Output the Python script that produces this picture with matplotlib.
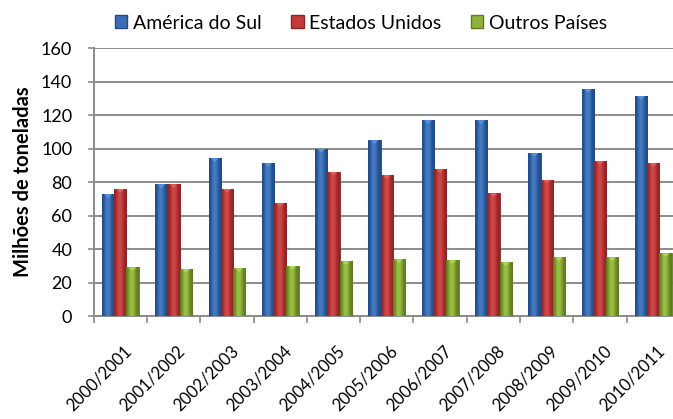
import matplotlib
matplotlib.use("Agg")
import matplotlib.pyplot as plt
import matplotlib.transforms as mtransforms
import numpy as np
from matplotlib.patches import Patch
from matplotlib.colors import LinearSegmentedColormap

categories = ["2000/2001", "2001/2002", "2002/2003", "2003/2004", "2004/2005",
              "2005/2006", "2006/2007", "2007/2008", "2008/2009", "2009/2010", "2010/2011"]
america_sul = [72.7, 78.6, 94.1, 91.2, 99.7, 104.9, 116.8, 116.8, 97.3, 135.3, 131.3]
estados_unidos = [75.8, 78.6, 75.8, 67.3, 86.0, 84.0, 87.6, 73.2, 81.2, 92.5, 91.2]
outros_paises = [29.0, 27.9, 28.5, 29.9, 32.6, 33.8, 33.2, 32.0, 35.0, 35.0, 37.4]
series_names = ["América do Sul", "Estados Unidos", "Outros Países"]
yticks = [0, 20, 40, 60, 80, 100, 120, 140, 160]

plt.rcParams['font.family'] = ['Lato', 'DejaVu Sans']

fig = plt.figure(figsize=(6.73, 4.19), dpi=100)
ax = fig.add_axes([0.1392, 0.2458, 0.8712, 0.6396])

colors = ["#3a6db5", "#c43a3a", "#8fb23a"]
light = ["#5b92db", "#e06060", "#b2d45a"]
dark = ["#1f4a85", "#8f2424", "#5e7a1f"]

x = np.arange(len(categories))
w = 0.23
offsets = [-w, 0, w]
data = [america_sul, estados_unidos, outros_paises]

ax.set_xlim(-0.5, len(categories) - 0.5)
ax.set_ylim(0, 160)

for vals, off, c, lc, dc in zip(data, offsets, colors, light, dark):
    bars = ax.bar(x + off, vals, width=w, color=c, edgecolor=dc, linewidth=0.6, zorder=3)
    grad = np.array([[0.0, 0.45, 0.75, 0.6, 0.2, 0.0]])
    cmap = LinearSegmentedColormap.from_list("g", [dc, c, lc])
    for b in bars:
        bx, by = b.get_x(), b.get_y()
        bw, bh = b.get_width(), b.get_height()
        im = ax.imshow(grad, cmap=cmap, vmin=0, vmax=1, aspect='auto',
                       extent=[bx, bx + bw, by, by + bh], zorder=3.5,
                       interpolation='bicubic')
        im.set_clip_path(b)
        ax.fill([bx + bw * 0.2, bx + bw * 0.8, bx + bw * 0.5],
                [by + bh, by + bh, by + bh - 2.2], color=lc, zorder=4, lw=0)

ax.set_yticks(yticks)
ax.set_yticklabels([str(t) for t in yticks], fontsize=13)
ax.yaxis.grid(True, color="#8c8c8c", linewidth=1.4, zorder=0)
ax.set_axisbelow(True)

ax.set_xticks(x)
ax.set_xticklabels(categories, rotation=45, ha='right', rotation_mode='anchor', fontsize=12)
ax.tick_params(axis='x', length=0, pad=19)
offset = mtransforms.ScaledTranslation(3 / 100, 0, fig.dpi_scale_trans)
for lab in ax.get_xticklabels():
    lab.set_transform(lab.get_transform() + offset)
ax.set_xticks(np.arange(-0.5, len(categories) + 0.5, 1), minor=True)
ax.tick_params(axis='x', which='minor', length=5, color="#8c8c8c", width=1.2)
ax.tick_params(axis='y', length=4.5, color="#8c8c8c", width=1.2, pad=11)

for s in ["top", "right"]:
    ax.spines[s].set_visible(False)
ax.spines["left"].set_color("#8c8c8c")
ax.spines["left"].set_linewidth(1.4)
ax.spines["bottom"].set_color("#8c8c8c")
ax.spines["bottom"].set_linewidth(1.4)

ax.set_ylabel("Milhões de toneladas", fontsize=14.5, fontweight='bold', labelpad=6)

handles = [Patch(facecolor=c, edgecolor=d, label=n) for c, d, n in zip(colors, dark, series_names)]
fig.legend(handles=handles, loc='center', bbox_to_anchor=(0.5364, 0.945), ncol=3,
           frameon=False, fontsize=14, handlelength=0.65, handleheight=0.65,
           handletextpad=0.3, columnspacing=1.5)

fig.savefig("out.png", dpi=100)
